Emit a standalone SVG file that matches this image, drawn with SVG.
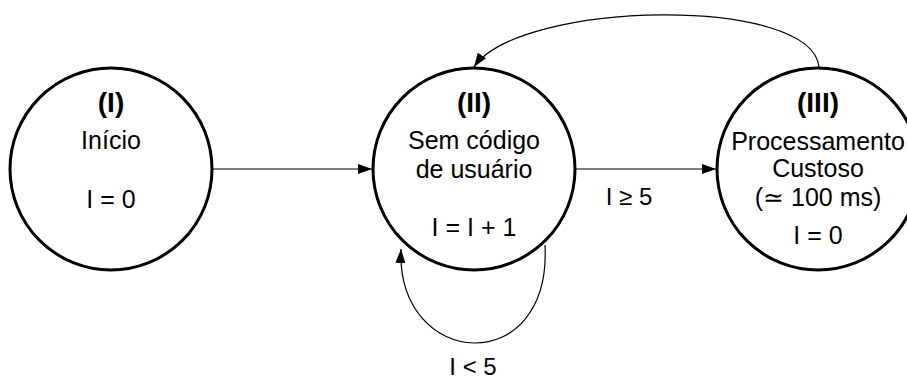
<svg xmlns="http://www.w3.org/2000/svg" width="907" height="380" viewBox="0 0 907 380">
<style>
.node{fill:#fff;stroke:#000;stroke-width:3}
.t{font-family:"Liberation Sans",Arial,sans-serif;font-size:25px;fill:#000;text-anchor:middle}
.b{font-weight:bold;font-size:28px}
.c{fill:none;stroke:#000;stroke-width:1.2}
.lbl{font-family:"Liberation Sans",Arial,sans-serif;font-size:24px;fill:#000;text-anchor:middle}
</style>
<defs>
<marker id="arr" markerWidth="14" markerHeight="10" refX="14" refY="5" orient="auto" markerUnits="userSpaceOnUse">
<path d="M0,0 L14,5 L0,10 Z" fill="#000"/>
</marker>
</defs>
<g id="connectors">
<path class="c" d="M213 169 L372 169" marker-end="url(#arr)"/>
<path class="c" d="M575 169 L716 169" marker-end="url(#arr)"/>
<path class="c" d="M819 67 C812 -5 520 0 474 67" marker-end="url(#arr)"/>
<path class="c" d="M545 245 C552 380 396 370 401 249" marker-end="url(#arr)"/>
<text class="lbl" x="629" y="205">I ≥ 5</text>
<text class="lbl" x="473" y="375">I &lt; 5</text>
</g>
<g id="node1">
<circle class="node" cx="111" cy="169" r="101"/>
<text class="t b" x="111" y="112">(I)</text>
<text class="t" x="111" y="149">Início</text>
<text class="t" x="111" y="208">I = 0</text>
</g>
<g id="node2">
<circle class="node" cx="474" cy="169" r="101"/>
<text class="t b" x="474" y="112">(II)</text>
<text class="t" x="474" y="149">Sem código</text>
<text class="t" x="474" y="178">de usuário</text>
<text class="t" x="474" y="236">I = I + 1</text>
</g>
<g id="node3">
<circle class="node" cx="818" cy="169" r="101"/>
<text class="t b" x="818" y="112">(III)</text>
<text class="t" x="818" y="150">Processamento</text>
<text class="t" x="818" y="177">Custoso</text>
<text class="t" x="818" y="206">(≃ 100 ms)</text>
<text class="t" x="818" y="244">I = 0</text>
</g>
</svg>
